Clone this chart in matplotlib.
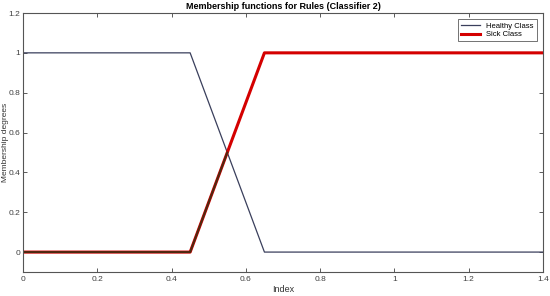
import matplotlib.pyplot as plt

# membership function breakpoints
index = [0, 0.45, 0.65, 1.4]
healthy = [1, 1, 0, 0]
sick = [0, 0, 1, 1]
# dark overlay drawn over the lower part of the sick curve
overlap_x = [0, 0.45, 0.55]
overlap_y = [0, 0, 0.5]

plt.rcParams["font.family"] = ["Liberation Sans", "DejaVu Sans"]
plt.rcParams["font.size"] = 6

fig = plt.figure(figsize=(5.5, 2.96), dpi=100)
ax = fig.add_axes([23 / 550, 1 - 272 / 296, 520 / 550, 259 / 296])

ax.plot(index, healthy, color="#3a3f5c", lw=0.9, label="Healthy Class")
ax.plot(index, sick, color="#d40000", lw=2.2, label="Sick Class")
ax.plot(overlap_x, overlap_y, color="#4a2a10", lw=1.4)

ax.set_xlim(0, 1.4)
ax.set_ylim(-0.1, 1.2)
ax.set_xticks([0, 0.2, 0.4, 0.6, 0.8, 1, 1.2, 1.4])
ax.set_xticklabels(["0", "0.2", "0.4", "0.6", "0.8", "1", "1.2", "1.4"])
ax.set_yticks([0, 0.2, 0.4, 0.6, 0.8, 1, 1.2])
ax.set_yticklabels(["0", "0.2", "0.4", "0.6", "0.8", "1", "1.2"])
ax.tick_params(direction="in", top=True, right=True, length=3, width=0.6,
               colors="#404040", labelsize=6, pad=3)
ax.tick_params(axis="y", pad=2)
for s in ax.spines.values():
    s.set_color("#555555")
    s.set_linewidth(0.8)

ax.set_title("Membership functions for Rules (Classifier 2)", fontsize=6.5,
             fontweight="bold", pad=3)
ax.set_xlabel("Index", fontsize=6.5, color="#333333", labelpad=1)
ax.set_ylabel("Membership degrees", fontsize=6, color="#333333")
ax.yaxis.set_label_coords(-0.026, 0.5)

leg = ax.legend(loc="upper right", fontsize=5.5, fancybox=False,
                edgecolor="#333333", handlelength=2.5, borderaxespad=0.8,
                labelspacing=0.2, borderpad=0.4)
leg.get_frame().set_linewidth(0.6)

fig.savefig("out.png", dpi=100, facecolor="white")
